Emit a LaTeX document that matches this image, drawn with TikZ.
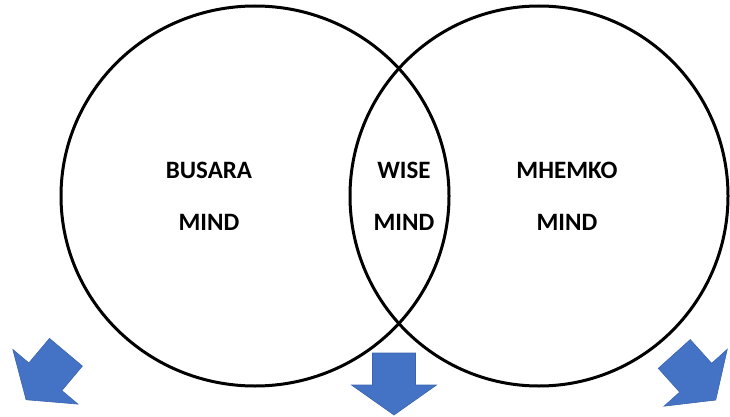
\documentclass[tikz,border=0pt]{standalone}
\usepackage{fontspec}
\setmainfont{Carlito}
\usetikzlibrary{positioning}
\definecolor{arrowblue}{HTML}{4472C4}
\definecolor{arrowedge}{HTML}{3A64B0}

\begin{document}
\begin{tikzpicture}[x=1pt,y=-1pt,
 ring/.style={draw=black,line width=3pt},
 lbl/.style={font=\fontsize{25}{52}\selectfont\bfseries,align=center,inner sep=0pt},
 downarrow/.pic={\filldraw[fill=arrowblue,draw=arrowedge,line width=0.6pt]
   (-21.5pt,31pt) -- (21.5pt,31pt) -- (21.5pt,-1pt) -- (42.5pt,-1pt) -- (0pt,-31pt)
   -- (-42.5pt,-1pt) -- (-21.5pt,-1pt) -- cycle;}]
\useasboundingbox (0,0) rectangle (730,417);
% the two minds
\draw[ring] (255,196) ellipse [x radius=194,y radius=190];
\draw[ring] (539,196) ellipse [x radius=189,y radius=190];
\node[lbl] (busara) at (209,196) {BUSARA\\MIND};
\node[lbl] (wise) at (404,196) {WISE\\MIND};
\node[lbl] (mhemko) at (567,196) {MHEMKO\\MIND};
% arrows below
\pic[rotate=-40] (leftarrow) at (46,376) {downarrow};
\pic (midarrow) at (394,384) {downarrow};
\pic[rotate=42] (rightarrow) at (695,377) {downarrow};
\end{tikzpicture}
\end{document}
